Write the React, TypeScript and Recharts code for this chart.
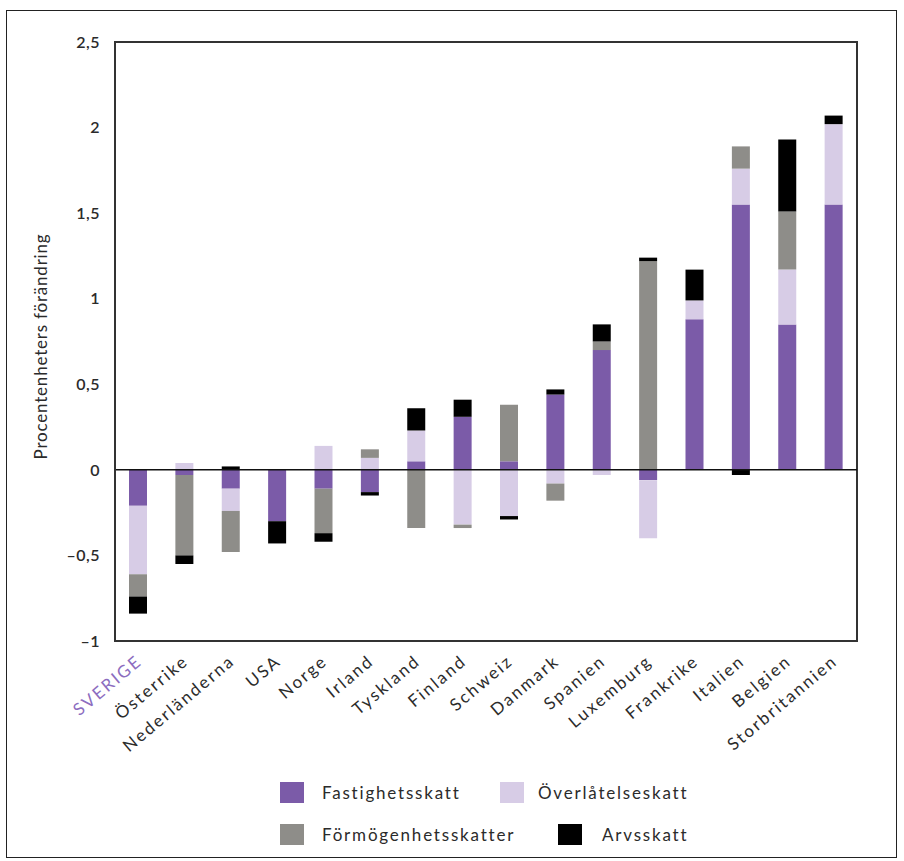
import React from "react";
import {
  BarChart,
  Bar,
  XAxis,
  YAxis,
  ReferenceLine,
  ReferenceArea,
} from "recharts";

const countries = [
  "SVERIGE",
  "Österrike",
  "Nederländerna",
  "USA",
  "Norge",
  "Irland",
  "Tyskland",
  "Finland",
  "Schweiz",
  "Danmark",
  "Spanien",
  "Luxemburg",
  "Frankrike",
  "Italien",
  "Belgien",
  "Storbritannien",
];

const fastighetsskatt = [-0.21, -0.03, -0.11, -0.3, -0.11, -0.13, 0.05, 0.31, 0.05, 0.44, 0.7, -0.06, 0.88, 1.55, 0.85, 1.55];
const overlatelseskatt = [-0.4, 0.04, -0.13, 0, 0.14, 0.07, 0.18, -0.32, -0.27, -0.08, -0.03, -0.34, 0.11, 0.21, 0.32, 0.47];
const formogenhetsskatter = [-0.13, -0.47, -0.24, 0, -0.26, 0.05, -0.34, -0.02, 0.33, -0.1, 0.05, 1.22, 0, 0.13, 0.34, 0];
const arvsskatt = [-0.1, -0.05, 0.02, -0.13, -0.05, -0.02, 0.13, 0.1, -0.02, 0.03, 0.1, 0.02, 0.18, -0.03, 0.42, 0.05];

const yTicks = [-1, -0.5, 0, 0.5, 1, 1.5, 2, 2.5];

const series = [
  { key: "fastighet", name: "Fastighetsskatt", color: "#7b5ba8" },
  { key: "overlatelse", name: "Överlåtelseskatt", color: "#d7cce6" },
  { key: "formogenhet", name: "Förmögenhetsskatter", color: "#8e8d89" },
  { key: "arv", name: "Arvsskatt", color: "#000000" },
];

const data = countries.map((name, i) => ({
  name,
  fastighet: fastighetsskatt[i],
  overlatelse: overlatelseskatt[i],
  formogenhet: formogenhetsskatter[i],
  arv: arvsskatt[i],
}));

const FONT = "Lato, 'Open Sans', sans-serif";

const formatY = (v: number) =>
  v === 0 ? "0" : String(v).replace(".", ",").replace("-", "–");

// rotated country names, SVERIGE highlighted in purple
const CountryTick = (props: any) => {
  const { x, y, payload } = props;
  const isSweden = payload.value === "SVERIGE";
  return (
    <g transform={`translate(${x + 5},${y + 14})`}>
      <text
        x={0}
        y={0}
        textAnchor="end"
        transform="rotate(-40)"
        fontFamily={FONT}
        fontSize={17}
        letterSpacing={2.2}
        fill={isSweden ? "#8c6dbf" : "#2b2b2b"}
      >
        {payload.value}
      </text>
    </g>
  );
};

const YLabel = (props: any) => {
  const vb = props.viewBox || {};
  const cy = (vb.y || 0) + (vb.height || 0) / 2 + 5;
  const cx = 40;
  return (
    <text
      x={cx}
      y={cy}
      transform={`rotate(-90, ${cx}, ${cy})`}
      textAnchor="middle"
      fontFamily={FONT}
      fontSize={17}
      letterSpacing={0.8}
      fill="#2b2b2b"
    >
      Procentenheters förändring
    </text>
  );
};

const legendPos = [
  { sq: 273, text: 315, top: 771 },
  { sq: 493, text: 531, top: 771 },
  { sq: 273, text: 315, top: 813 },
  { sq: 551, text: 595, top: 813 },
];

export default function App() {
  return (
    <div
      style={{
        position: "absolute",
        left: 6,
        top: 10,
        width: 889,
        height: 846,
        border: "1px solid #222",
        background: "#fff",
      }}
    >
      <BarChart
        width={889}
        height={760}
        data={data}
        stackOffset="sign"
        barSize={18}
        margin={{ top: 31, right: 39, left: 0, bottom: 30 }}
      >
        <XAxis
          dataKey="name"
          interval={0}
          height={100}
          tickLine={false}
          axisLine={{ stroke: "#333", strokeWidth: 2 }}
          tick={<CountryTick />}
        />
        <YAxis
          domain={[-1, 2.5]}
          ticks={yTicks}
          width={108}
          tickLine={false}
          tickMargin={9}
          axisLine={{ stroke: "#333", strokeWidth: 2 }}
          tickFormatter={formatY}
          tick={{ fontFamily: FONT, fontSize: 16, fill: "#2b2b2b", fontWeight: 600, letterSpacing: 0.5 }}
          label={<YLabel />}
        />
        {series.map((s) => (
          <Bar
            key={s.key}
            dataKey={s.key}
            name={s.name}
            stackId="a"
            fill={s.color}
            isAnimationActive={false}
          />
        ))}
        <ReferenceLine y={0} stroke="#111" strokeWidth={1.5} />
        {/* plot frame */}
        <ReferenceArea
          x1={countries[0]}
          x2={countries[countries.length - 1]}
          y1={-1}
          y2={2.5}
          fill="none"
          fillOpacity={0}
          stroke="#333"
          strokeWidth={2}
        />
      </BarChart>
      {series.map((s, i) => (
        <div
          key={s.key}
          style={{
            position: "absolute",
            top: legendPos[i].top,
            left: 0,
            height: 21,
          }}
        >
          <div
            style={{
              position: "absolute",
              left: legendPos[i].sq,
              top: 0,
              width: 24,
              height: 21,
              background: s.color,
            }}
          />
          <div
            style={{
              position: "absolute",
              left: legendPos[i].text,
              top: 0,
              lineHeight: "21px",
              whiteSpace: "nowrap",
              fontFamily: FONT,
              fontSize: 17,
              letterSpacing: 1.8,
              color: "#2b2b2b",
            }}
          >
            {s.name}
          </div>
        </div>
      ))}
    </div>
  );
}
